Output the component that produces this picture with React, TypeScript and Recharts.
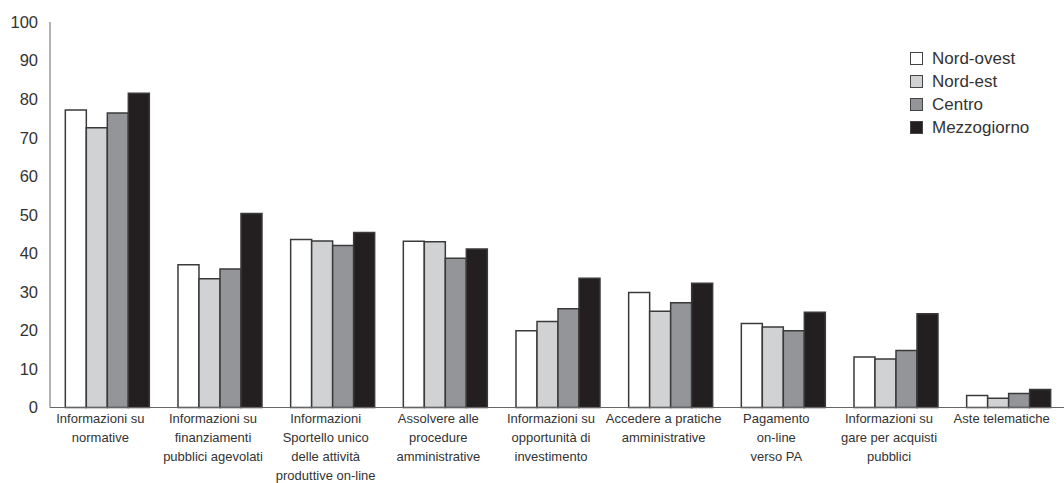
import React from "react";
import { BarChart, Bar, XAxis, YAxis, Legend } from "recharts";

const categories: string[][] = [
  ["Informazioni su", "normative"],
  ["Informazioni su", "finanziamenti", "pubblici agevolati"],
  ["Informazioni", "Sportello unico", "delle attività", "produttive on-line"],
  ["Assolvere alle", "procedure", "amministrative"],
  ["Informazioni su", "opportunità di", "investimento"],
  ["Accedere a pratiche", "amministrative"],
  ["Pagamento", "on-line", "verso PA"],
  ["Informazioni su", "gare per acquisti", "pubblici"],
  ["Aste telematiche"],
];

const nordOvest = [77.2, 37.0, 43.6, 43.1, 19.9, 29.8, 21.8, 13.1, 3.1];
const nordEst = [72.6, 33.4, 43.2, 43.0, 22.3, 25.0, 20.9, 12.6, 2.4];
const centro = [76.4, 35.9, 42.0, 38.7, 25.6, 27.2, 19.9, 14.8, 3.6];
const mezzogiorno = [81.5, 50.3, 45.4, 41.1, 33.5, 32.2, 24.7, 24.3, 4.7];

const yTicks = [0, 10, 20, 30, 40, 50, 60, 70, 80, 90, 100];

const series = [
  { key: "nordOvest", name: "Nord-ovest", color: "#ffffff" },
  { key: "nordEst", name: "Nord-est", color: "#d1d2d4" },
  { key: "centro", name: "Centro", color: "#939598" },
  { key: "mezzogiorno", name: "Mezzogiorno", color: "#231f20" },
];

const data = categories.map((c, i) => ({
  name: c.join(" "),
  idx: i,
  nordOvest: nordOvest[i],
  nordEst: nordEst[i],
  centro: centro[i],
  mezzogiorno: mezzogiorno[i],
}));

const FONT = "'Liberation Sans', Arial, sans-serif";

const XTick = (props: any) => {
  const { x, y, payload } = props;
  const lines = categories[payload.index] || [];
  return (
    <text
      x={x - 6}
      y={y}
      textAnchor="middle"
      fill="#333"
      fontSize={13}
      fontFamily={FONT}
    >
      {lines.map((l, i) => (
        <tspan key={i} x={x - 6} dy={i === 0 ? 15 : 19}>
          {l}
        </tspan>
      ))}
    </text>
  );
};

const LegendContent = () => (
  <div style={{ fontFamily: FONT, fontSize: 17, color: "#333", textAlign: "left" }}>
    {series.map((s) => (
      <div
        key={s.key}
        style={{ display: "flex", alignItems: "center", height: 23 }}
      >
        <div
          style={{
            width: 11,
            height: 11,
            background: s.color,
            border: "1.5px solid #444",
            marginRight: 9,
          }}
        />
        <span>{s.name}</span>
      </div>
    ))}
  </div>
);

export default function App() {
  return (
    <div style={{ position: "absolute", left: 0, top: 0, width: 1064, height: 483, background: "#fff" }}>
      <BarChart
        width={1064}
        height={483}
        data={data}
        margin={{ top: 22, right: 0, bottom: 0, left: 0 }}
        barGap={0}
        barCategoryGap="13.6%"
      >
        <XAxis
          dataKey="name"
          interval={0}
          tickLine={false}
          tickSize={0}
          tickMargin={0}
          height={75.5}
          stroke="#666"
          tick={<XTick />}
        />
        <YAxis
          width={50}
          domain={[0, 100]}
          ticks={yTicks}
          tickLine={false}
          tickSize={0}
          tickMargin={12}
          stroke="#666"
          tick={{ fill: "#333", fontSize: 16.5, fontFamily: FONT }}
        />
        <Legend
          layout="vertical"
          verticalAlign="middle"
          align="center"
          content={<LegendContent />}
          wrapperStyle={{ position: "absolute", left: 910, top: 47, width: 150, height: 95 }}
        />
        {series.map((s) => (
          <Bar
            key={s.key}
            dataKey={s.key}
            name={s.name}
            fill={s.color}
            stroke="#3a3a3a"
            strokeWidth={1.5}
            isAnimationActive={false}
          />
        ))}
      </BarChart>
    </div>
  );
}
